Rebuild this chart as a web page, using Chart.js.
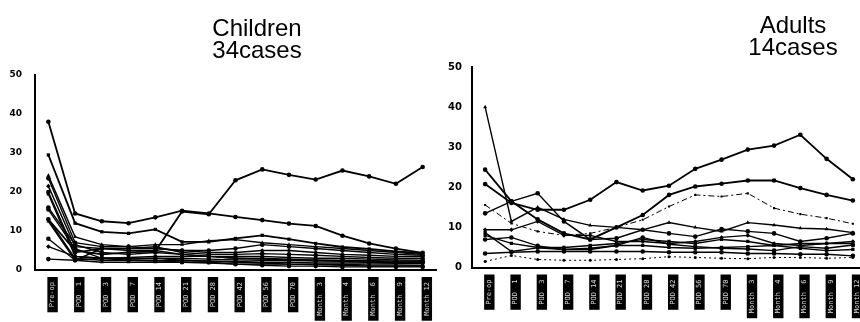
<!DOCTYPE html>
<html>
<head>
<meta charset="utf-8">
<script src="https://cdn.jsdelivr.net/npm/chart.js@4/dist/chart.umd.min.js"></script>
<style>
html, body { margin: 0; padding: 0; background: #fff; overflow: hidden; width: 860px; height: 322px; }
.box { position: absolute; top: 0; height: 322px; }
.title { position: absolute; z-index: 2; width: 200px; text-align: center; color: #000;
         font-family: "Liberation Sans", Arial, sans-serif; font-size: 24px; line-height: 22px; }
</style>
</head>
<body>
<div class="box" style="left:0; width:440px"><canvas id="children"></canvas></div>
<div class="box" style="left:440px; width:430px"><canvas id="adults"></canvas></div>
<div class="title" style="left:157px; top:17px">Children<br>34cases</div>
<div class="title" style="left:693px; top:14px">Adults<br>14cases</div>
<script>
// x labels (black boxes in the scan, text not readable)
const periods = ['Pre-op', 'POD  1', 'POD  3', 'POD  7', 'POD 14', 'POD 21', 'POD 28', 'POD 42',
  'POD 56', 'POD 70', 'Month  3', 'Month  4', 'Month  6', 'Month  9', 'Month 12']
const yTicks = [0, 10, 20, 30, 40, 50]

// children, one array per case line that can be followed
const c1 = [38, 14.5, 12.5, 12, 13.5, 15.2, 14.5, 13.6, 12.8, 11.9, 11.3, 8.8, 6.8, 5.5, 4.4]
const c2 = [13, 5, 4, 4.5, 4.8, 15, 14.3, 23, 25.8, 24.4, 23.2, 25.5, 24, 22.1, 26.4]
const c3 = [29.5, 12, 9.8, 9.4, 10.4, 7.2, 7.2, 8.1, 8.9, 7.9, 6.8, 5.9, 5.4, 4.8, 4.3]
const c4 = [24.2, 8.5, 6.5, 6, 6.5, 6.5, 7.5, 7.8, 7, 6.5, 6, 5.5, 5, 4.5, 4]
const c5 = [23.5, 7, 6, 6, 5.5, 5, 5, 5.5, 6.5, 6, 5.5, 5, 4.5, 4, 3.8]
const c6 = [21.5, 6, 5.5, 5.5, 5.5, 5, 4.5, 4.5, 5, 5, 4.5, 4, 3.8, 3.5, 3.5]
const c7 = [20, 4.5, 5.5, 5.5, 6, 4.5, 4, 4, 4.2, 4, 3.8, 3.5, 3.2, 3, 3]
const c8 = [19.5, 3.5, 3, 3.2, 3.5, 3.5, 3.5, 3.5, 3.5, 3.2, 3, 3, 2.8, 2.6, 2.5]
const c9 = [16, 6.5, 4.5, 4, 4.5, 4, 3.5, 3, 3, 2.8, 2.5, 2.5, 2.4, 2.3, 2.3]
const c10 = [15.5, 5.5, 3, 2.8, 3, 3, 2.8, 2.6, 2.5, 2.5, 2.3, 2.2, 2, 2, 2]
const c11 = [13, 3, 2.5, 2.5, 2.3, 2.5, 2.3, 2.2, 2, 2, 1.8, 1.8, 1.8, 1.7, 1.7]
const c12 = [12.5, 2.5, 2, 2, 2, 2, 1.8, 1.5, 1.5, 1.5, 1.4, 1.4, 1.3, 1.3, 1.2]
const c13 = [8, 2.5, 5.5, 5, 5, 4, 3.5, 3, 2.8, 2.6, 2.5, 2.4, 2.2, 2, 2]
const c14 = [6, 3.5, 3, 3, 3, 2.5, 2.2, 2, 1.8, 1.5, 1.4, 1.2, 1, 1, 1]
const c15 = [2.8, 2.5, 3, 2.5, 2.5, 2, 2, 1.5, 1.2, 1, 1, 0.8, 0.8, 0.8, 0.8]

// adults
const a1 = [20.8, 16.1, 14.4, 14.4, 16.9, 21.3, 19.2, 20.4, 24.6, 26.9, 29.4, 30.4, 33.1, 27.1, 22]
const a2 = [24.4, 16.5, 12, 8.5, 7, 10, 13.1, 18.1, 20.2, 20.9, 21.7, 21.7, 19.8, 18.1, 16.7]
const a3 = [15.6, 11, 9, 8, 8.5, 10, 11.9, 15.2, 18.1, 17.7, 18.5, 14.8, 13.3, 12.3, 10.9]
const a4 = [40, 11.5, 15, 12, 10.5, 10, 9.4, 11.2, 10, 9, 11.2, 10.6, 9.8, 9.6, 8.7]
const a5 = [13.5, 16.5, 18.5, 11.5, 7, 7.3, 9.4, 8.5, 7.7, 9.6, 9, 8.5, 6.5, 7.3, 8.5]
const a6 = [9.4, 9.4, 11.5, 8, 8, 6.5, 6.5, 6, 6.5, 7.5, 8, 6, 5.5, 6, 6.5]
const a7 = [7, 7.5, 5.4, 4.5, 4.8, 5.5, 7.5, 5.8, 5.2, 4.8, 4.6, 4.2, 5.2, 4.8, 5.6]
const a8 = [8.7, 4, 4.9, 4.5, 4.5, 5.5, 5.5, 5, 4.8, 5, 5.2, 5.5, 4.8, 4.2, 4.5]
const a9 = [3.5, 3.8, 4, 4, 4, 4, 4, 3.8, 3.8, 3.8, 3.5, 3.5, 3.3, 3.3, 2.9]
const a10 = [1.5, 3, 2, 1.8, 1.8, 2, 2.2, 2.7, 2.5, 2.3, 2.2, 2.5, 2.5, 2.3, 2.5]
const a11 = [8, 6, 5, 5, 5.5, 6, 7, 6.5, 6, 7, 6.5, 5.5, 6, 6, 6]

const childrenSeries = [c1, c2, c3, c4, c5, c6, c7, c8, c9, c10, c11, c12, c13, c14, c15]
const adultSeries = [a1, a2, a3, a4, a5, a6, a7, a8, a9, a10, a11]

const markers = ['circle', 'circle', 'rect', 'triangle', 'circle', 'rectRot', 'circle', 'rect']

function lines(list, dashed) {
  return list.map((d, i) => ({
    data: d,
    borderColor: '#000',
    backgroundColor: '#000',
    borderWidth: dashed[i] ? 1 : (i < 3 ? 1.8 : 1.4),
    borderDash: dashed[i] || [],
    pointStyle: markers[i % markers.length],
    pointRadius: dashed[i] ? 1.5 : 2.3,
    pointBorderWidth: 0,
    tension: 0,
    fill: false
  }))
}

function makeChart(id, list, dashed, yWidth, xHeight, top, pad, fontSize) {
  new Chart(document.getElementById(id), {
    type: 'line',
    data: { labels: periods, datasets: lines(list, dashed) },
    options: {
      responsive: true,
      maintainAspectRatio: false,
      animation: false,
      layout: { padding: { top: top, right: 0, left: 0, bottom: 0 } },
      plugins: { legend: { display: false }, tooltip: { enabled: false } },
      scales: {
        x: {
          offset: true,
          grid: { display: false },
          border: { color: '#000', width: 2 },
          afterFit: s => { s.height = xHeight },
          ticks: {
            autoSkip: false, minRotation: 90, maxRotation: 90, padding: 4,
            color: '#ddd', font: { family: 'DejaVu Sans Mono', size: 7 },
            showLabelBackdrop: true, backdropColor: '#000',
            backdropPadding: { top: 1, bottom: 1, left: 5, right: 5 }
          }
        },
        y: {
          min: 0, max: 50,
          afterFit: s => { s.width = yWidth },
          afterBuildTicks: s => { s.ticks = yTicks.map(v => ({ value: v })) },
          grid: { display: false },
          border: { color: '#000', width: 2 },
          ticks: { color: '#000', padding: pad, font: { family: 'DejaVu Sans', size: fontSize, weight: 'bold' } }
        }
      }
    }
  })
}

makeChart('children', childrenSeries, {}, 35, 52, 75, 5, 9)
makeChart('adults', adultSeries, { 2: [6, 3, 2, 3], 9: [2, 3] }, 32, 54.5, 67, 2, 10)
</script>
</body>
</html>
